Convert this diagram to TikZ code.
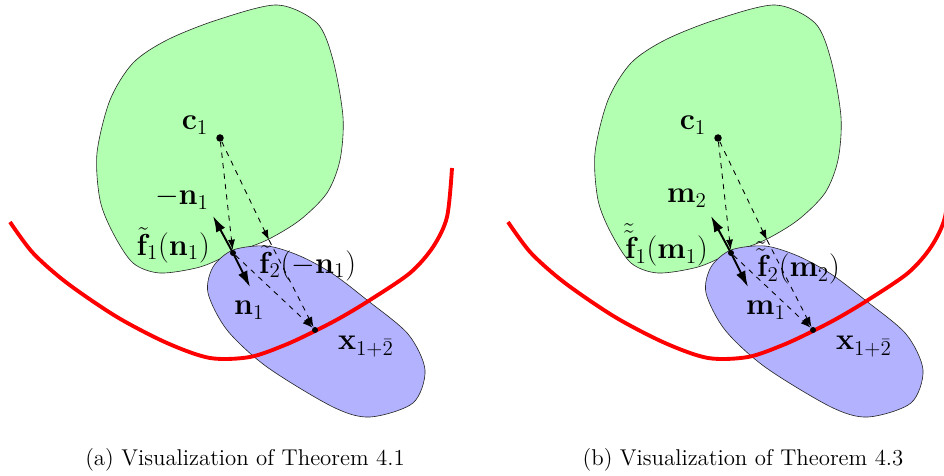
\documentclass[tikz,border=0pt]{standalone}
\usepackage{amsmath,amssymb}
\usepackage{xcolor}
\usetikzlibrary{arrows.meta,positioning}

\begin{document}
\begin{tikzpicture}[x=0.02cm, y=-0.02cm,
  region/.style={draw=black!85, line width=0.35pt},
  greenset/.style={region, fill=green!30},
  blueset/.style={region, fill=blue!30},
  boundary/.style={red, line width=2.2pt},
  dot/.style={circle, fill=black, inner sep=0pt, minimum size=0.15cm},
  normal/.style={-{Latex[length=3.2mm,width=2mm]}, line width=1.1pt},
  proj/.style={-{Latex[length=2mm,width=1.4mm]}, dashed, line width=0.5pt},
  lab/.style={font=\LARGE, inner sep=1pt},
  caption/.style={font=\fontsize{13}{15}\selectfont}]
\clip (0,0) rectangle (944,476);

\foreach \p/\sx/\up/\fa/\fb/\dn/\dnx/\thm in {
  a/0/{-\mathbf{n}_1}/{\tilde{\mathbf{f}}_1(\mathbf{n}_1)}/{\tilde{\mathbf{f}}_2(-\mathbf{n}_1)}/{\mathbf{n}_1}/232/4.1,
  b/498/{\mathbf{m}_2}/{\tilde{\tilde{\mathbf{f}}}_1(\mathbf{m}_1)}/{\tilde{\tilde{\mathbf{f}}}_2(\mathbf{m}_2)}/{\mathbf{m}_1}/246/4.3}{
\begin{scope}[xshift=\sx*0.02cm]
% the two sets and the red boundary
\draw[greenset] plot[smooth cycle] coordinates {(277,5) (317,23) (333,60) (343,117) (340,160) (327,193) (300,220) (267,240) (233,253) (200,267) (160,273) (133,263) (113,233) (100,200) (97,153) (110,100) (133,63) (167,40) (217,20)};
\draw[blueset] plot[smooth cycle] coordinates {(233,250) (267,246) (300,256) (333,274) (367,300) (408,334) (425,370) (413,403) (370,417) (333,407) (267,367) (227,330) (208,293) (213,267)};
\draw[boundary] plot[smooth] coordinates {(10,222) (33,253) (67,283) (117,317) (167,343) (210,358) (250,357) (285,345) (313,332) (340,318) (370,300) (410,273) (433,247) (447,217) (452,168)};

\node[dot] (c-\p) at (220,138) {};
\node[dot, minimum size=0.12cm] (p-\p) at (233,253) {};
\coordinate (q-\p) at (269,240);
\node[dot, minimum size=0.12cm] (x-\p) at (315,330) {};
\coordinate (up-\p) at (213,216);
\coordinate (dn-\p) at (250,287);

\draw[proj] (c-\p) -- (p-\p);
\draw[proj] (c-\p) -- (q-\p);
\draw[proj] (p-\p) -- (x-\p);
\draw[proj] (q-\p) -- (x-\p);
\draw[normal] (p-\p.center) -- (up-\p);
\draw[normal] (p-\p.center) -- (dn-\p);

\node[lab] (lc-\p) at (195,125) {$\mathbf{c}_1$};
\node[lab, anchor=east] (lu-\p) at (211,198) {$\up$};
\node[lab, anchor=east] (lfa-\p) at (212,245) {$\fa$};
\node[lab, anchor=west] (lfb-\p) at (257,263) {$\fb$};
\node[lab, anchor=west] (ld-\p) at (\dnx,310) {$\dn$};
\node[lab, anchor=west] (lx-\p) at (336,347) {$\mathbf{x}_{1+\bar{2}}$};
\node[caption] (cap-\p) at (245,460) {(\p) Visualization of Theorem \thm};
\end{scope}
}
\end{tikzpicture}
\end{document}
